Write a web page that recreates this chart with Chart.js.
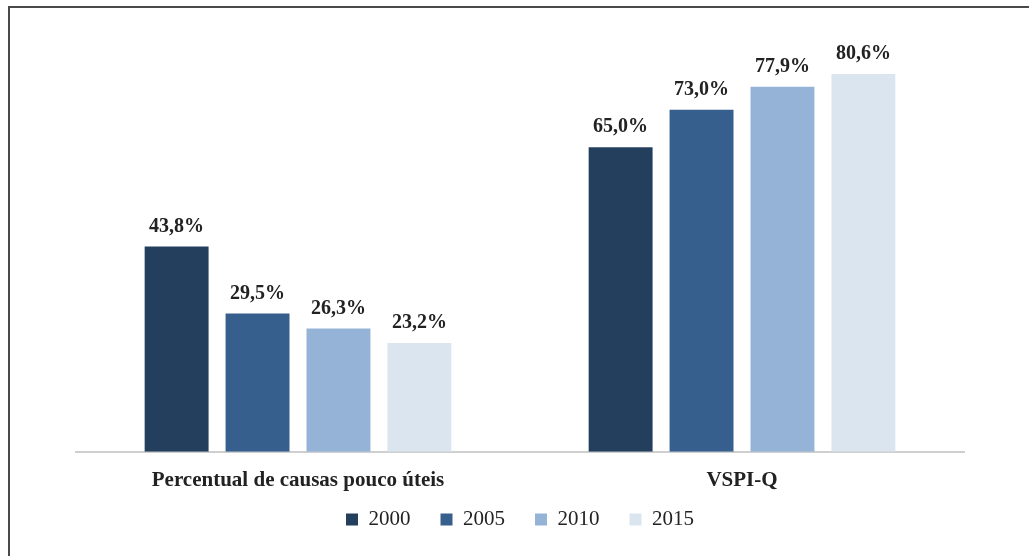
<!DOCTYPE html>
<html>
<head>
<meta charset="utf-8">
<script src="https://cdn.jsdelivr.net/npm/chart.js@4.4.0/dist/chart.umd.min.js"></script>
<style>
html,body{margin:0;padding:0;background:#fff;}
#wrap{position:relative;width:1029px;height:556px;overflow:hidden;}
#frame{position:absolute;left:8px;top:6px;width:1100px;height:700px;border-left:2px solid #4a4a4a;border-top:2px solid #4a4a4a;box-sizing:border-box;pointer-events:none;}
canvas{position:absolute;left:0;top:0;}
</style>
</head>
<body>
<div id="wrap">
<canvas id="c" width="1029" height="556"></canvas>
<div id="frame"></div>
</div>
<script>
const categories = ["Percentual de causas pouco úteis", "VSPI-Q"];
const seriesNames = ["2000", "2005", "2010", "2015"];
const values2000 = [43.8, 65.0];
const values2005 = [29.5, 73.0];
const values2010 = [26.3, 77.9];
const values2015 = [23.2, 80.6];
const colors = ["#243f5e", "#365f8e", "#95b3d7", "#dbe5f0"];

const allValues = [values2000, values2005, values2010, values2015];
const FONT = "'Liberation Serif', 'DejaVu Serif', serif";
const LEGEND_SHIFT = 22;

const labelPlugin = {
  id: 'valueLabels',
  afterLayout(chart) {
    if (chart.legend) {
      chart.legend.top -= LEGEND_SHIFT;
      chart.legend.bottom -= LEGEND_SHIFT;
    }
  },
  afterDatasetsDraw(chart) {
    const ctx = chart.ctx;
    ctx.save();
    ctx.font = "bold 20px " + FONT;
    ctx.fillStyle = "#222";
    ctx.textAlign = "center";
    ctx.textBaseline = "bottom";
    chart.data.datasets.forEach((ds, i) => {
      const meta = chart.getDatasetMeta(i);
      meta.data.forEach((el, j) => {
        const v = ds.data[j];
        ctx.fillText(v.toFixed(1).replace('.', ',') + '%', el.x, el.y - 10);
      });
    });
    ctx.restore();
  }
};

new Chart(document.getElementById('c'), {
  type: 'bar',
  data: {
    labels: categories,
    datasets: seriesNames.map((n, i) => ({
      label: n,
      data: allValues[i],
      backgroundColor: colors[i],
      borderWidth: 0,
      categoryPercentage: 0.729,
      barPercentage: 0.79
    }))
  },
  options: {
    responsive: false,
    animation: false,
    layout: { padding: { left: 76, right: 65, top: 30, bottom: -6 } },
    scales: {
      y: { display: false, min: 0, max: 90 },
      x: {
        grid: { display: false },
        border: { display: true, color: '#cfcfcf', width: 2 },
        ticks: { color: '#222', font: { family: FONT, size: 21, weight: 'bold' }, padding: 8 }
      }
    },
    plugins: {
      legend: {
        position: 'bottom',
        labels: {
          color: '#222',
          boxWidth: 12, boxHeight: 12,
          padding: 30,
          font: { family: FONT, size: 21 }
        }
      },
      tooltip: { enabled: false }
    }
  },
  plugins: [labelPlugin]
});
</script>
</body>
</html>
